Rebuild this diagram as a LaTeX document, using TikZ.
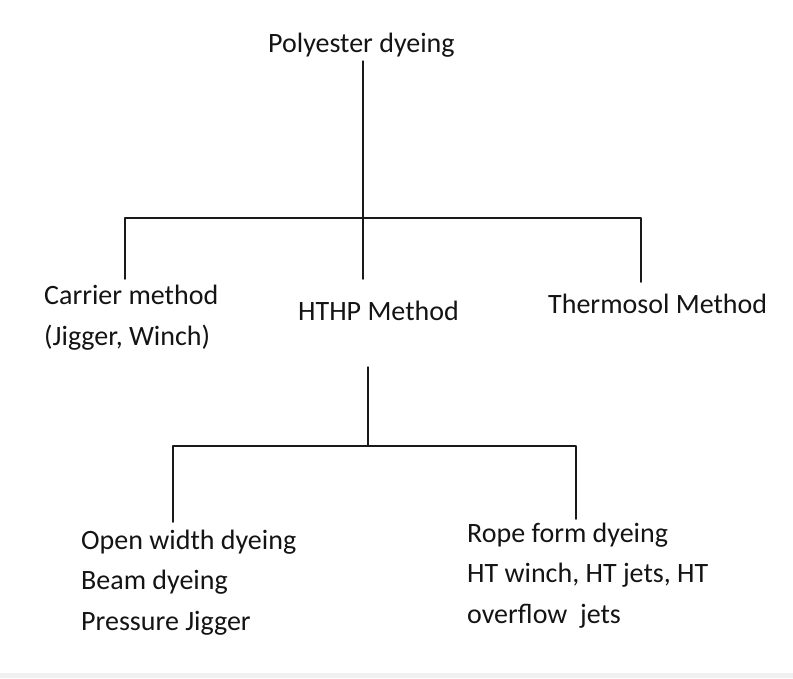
\documentclass[tikz,border=0pt]{standalone}
\usepackage{fontspec}
\setmainfont{Carlito}
\usetikzlibrary{positioning}

\begin{document}
\begin{tikzpicture}[line cap=round,line join=round,x=1pt,y=-1pt,
	txt/.style={inner sep=0pt,anchor=base west,align=left,text=black!92,font=\fontsize{28}{40.5}\selectfont},
	tree/.style={line width=1.5pt,black!90}]
		\useasboundingbox (0,0) rectangle (793,678);
		\fill [black!6] (0,673) rectangle (793,678);
		% texts
		\node[txt] (root) at (268,52) {Polyester dyeing};
		\node[txt] (carrier) at (44,345) {Carrier method\\(Jigger, Winch)};
		\node[txt] (hthp) at (298,320) {HTHP Method};
		\node[txt] (thermo) at (548,313) {Thermosol Method};
		\node[txt] (open) at (81,630) {Open width dyeing\\Beam dyeing\\Pressure Jigger};
		\node[txt] (rope) at (467,623) {Rope form dyeing\\HT winch, HT jets, HT\\overflow\ \ jets};
		% branch points
		\coordinate (top) at (363,61);
		\coordinate (bar) at (363,218);
		\coordinate (c1) at (125,279);
		\coordinate (c2) at (363,279);
		\coordinate (c3) at (641,282);
		\coordinate (h) at (368,367);
		\coordinate (hbar) at (368,446);
		\coordinate (d1) at (173,522);
		\coordinate (d2) at (576,519);
		% lines
		\draw [tree] (top)--(c2);
		\draw [tree] (c1)|-(bar)-|(c3);
		\draw [tree] (h)--(hbar);
		\draw [tree] (d1)|-(hbar)-|(d2);
	\end{tikzpicture}
\end{document}
